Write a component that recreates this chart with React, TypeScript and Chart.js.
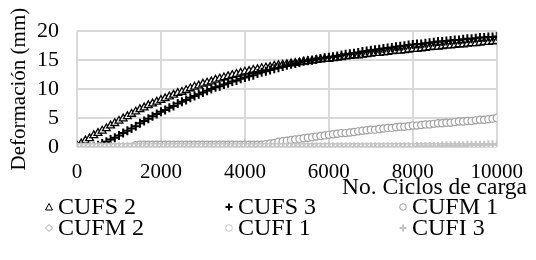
import React, { useEffect, useRef } from "react";
import { Chart, registerables } from "chart.js";

Chart.register(...registerables);

const cycles = [
  0, 100, 200, 300, 400, 500, 600, 700, 800, 900, 1000,
  1100, 1200, 1300, 1400, 1500, 1600, 1700, 1800, 1900, 2000,
  2100, 2200, 2300, 2400, 2500, 2600, 2700, 2800, 2900, 3000,
  3100, 3200, 3300, 3400, 3500, 3600, 3700, 3800, 3900, 4000,
  4100, 4200, 4300, 4400, 4500, 4600, 4700, 4800, 4900, 5000,
  5100, 5200, 5300, 5400, 5500, 5600, 5700, 5800, 5900, 6000,
  6100, 6200, 6300, 6400, 6500, 6600, 6700, 6800, 6900, 7000,
  7100, 7200, 7300, 7400, 7500, 7600, 7700, 7800, 7900, 8000,
  8100, 8200, 8300, 8400, 8500, 8600, 8700, 8800, 8900, 9000,
  9100, 9200, 9300, 9400, 9500, 9600, 9700, 9800, 9900, 10000,
];

const cufs2 = [
  0.2, 0.6, 1.1, 1.5, 2.0, 2.4, 2.8, 3.2, 3.7, 4.1, 4.5,
  4.9, 5.3, 5.7, 6.1, 6.5, 6.8, 7.2, 7.5, 7.8, 8.1,
  8.4, 8.7, 9.0, 9.3, 9.5, 9.8, 10.1, 10.4, 10.6, 10.9,
  11.1, 11.3, 11.6, 11.8, 12.0, 12.2, 12.4, 12.6, 12.8, 13.0,
  13.1, 13.3, 13.4, 13.6, 13.7, 13.8, 14.0, 14.1, 14.2, 14.3,
  14.4, 14.5, 14.6, 14.7, 14.8, 14.9, 15.0, 15.1, 15.2, 15.2,
  15.3, 15.4, 15.5, 15.6, 15.7, 15.8, 15.8, 15.9, 16.0, 16.1,
  16.2, 16.2, 16.3, 16.4, 16.5, 16.6, 16.6, 16.7, 16.8, 16.9,
  16.9, 17.0, 17.1, 17.2, 17.3, 17.3, 17.4, 17.5, 17.5, 17.6,
  17.7, 17.7, 17.8, 17.9, 17.9, 18.0, 18.1, 18.1, 18.2, 18.3,
];

const cufs3 = [
  0, 0, 0, 0, 0.1, 0.3, 0.6, 0.9, 1.3, 1.6, 2.0,
  2.4, 2.8, 3.2, 3.6, 4.1, 4.5, 4.9, 5.3, 5.7, 6.1,
  6.4, 6.8, 7.1, 7.5, 7.8, 8.1, 8.5, 8.8, 9.1, 9.4,
  9.7, 10.0, 10.3, 10.5, 10.8, 11.0, 11.3, 11.5, 11.8, 12.0,
  12.2, 12.4, 12.7, 12.9, 13.1, 13.3, 13.5, 13.7, 13.9, 14.1,
  14.3, 14.4, 14.6, 14.8, 14.9, 15.0, 15.1, 15.3, 15.4, 15.5,
  15.6, 15.7, 15.9, 16.0, 16.1, 16.2, 16.3, 16.5, 16.6, 16.7,
  16.8, 16.9, 17.0, 17.1, 17.2, 17.3, 17.4, 17.5, 17.6, 17.7,
  17.8, 17.8, 17.9, 18.0, 18.1, 18.2, 18.2, 18.3, 18.4, 18.5,
  18.5, 18.6, 18.7, 18.7, 18.8, 18.9, 18.9, 19.0, 19.0, 19.1,
];

const cufm1 = [
  0, 0, 0, 0, 0, 0, 0, 0, 0, 0, 0,
  0, 0, 0, 0.3, 0.4, 0.4, 0.4, 0.4, 0.4, 0.4,
  0.4, 0.4, 0.4, 0.4, 0.4, 0.4, 0.4, 0.4, 0.4, 0.4,
  0.4, 0.4, 0.4, 0.4, 0.4, 0.4, 0.4, 0.4, 0.4, 0.4,
  0.4, 0.4, 0.4, 0.4, 0.5, 0.6, 0.7, 0.9, 1.0, 1.1,
  1.2, 1.3, 1.4, 1.5, 1.6, 1.7, 1.8, 1.9, 2.0, 2.1,
  2.2, 2.3, 2.4, 2.4, 2.5, 2.6, 2.7, 2.8, 2.9, 3.0,
  3.0, 3.1, 3.2, 3.3, 3.3, 3.4, 3.5, 3.5, 3.6, 3.7,
  3.7, 3.8, 3.9, 3.9, 4.0, 4.1, 4.1, 4.2, 4.2, 4.3,
  4.4, 4.4, 4.5, 4.5, 4.6, 4.7, 4.7, 4.8, 4.9, 5.0,
];

const cufm2 = [
  0, 0, 0, 0, 0, 0, 0, 0, 0, 0, 0,
  0, 0, 0, 0, 0, 0, 0, 0, 0, 0,
  0, 0, 0, 0, 0, 0, 0, 0, 0, 0,
  0, 0, 0, 0, 0, 0, 0, 0, 0, 0,
  0, 0, 0, 0, 0, 0, 0, 0, 0, 0,
  0, 0, 0, 0, 0, 0, 0, 0, 0, 0,
  0, 0, 0, 0, 0, 0, 0, 0, 0, 0,
  0, 0, 0, 0, 0, 0, 0, 0, 0, 0,
  0, 0, 0, 0, 0, 0, 0, 0, 0, 0,
  0, 0, 0, 0, 0, 0, 0, 0, 0, 0,
];

const cufi1 = [
  0, 0, 0, 0, 0, 0, 0, 0, 0, 0, 0,
  0, 0, 0, 0, 0, 0, 0, 0, 0, 0,
  0, 0, 0, 0, 0, 0, 0, 0, 0, 0,
  0, 0, 0, 0, 0, 0, 0, 0, 0, 0,
  0, 0, 0, 0, 0, 0, 0, 0, 0, 0,
  0, 0, 0, 0, 0, 0, 0, 0, 0, 0,
  0, 0, 0, 0, 0, 0, 0, 0, 0, 0,
  0, 0, 0, 0, 0, 0, 0, 0, 0, 0,
  0, 0, 0, 0, 0, 0, 0, 0, 0, 0,
  0, 0, 0, 0, 0, 0, 0, 0, 0, 0,
];

const cufi3 = [
  0, 0, 0, 0, 0, 0, 0, 0, 0, 0, 0,
  0, 0, 0, 0, 0, 0, 0, 0, 0, 0,
  0, 0, 0, 0, 0, 0, 0, 0, 0, 0,
  0, 0, 0, 0, 0, 0, 0, 0, 0, 0,
  0, 0, 0, 0, 0, 0, 0, 0, 0, 0,
  0, 0, 0, 0, 0, 0, 0, 0, 0, 0,
  0, 0, 0, 0, 0, 0, 0, 0, 0, 0,
  0, 0, 0, 0, 0, 0, 0, 0, 0, 0,
  0.1, 0.1, 0.1, 0.1, 0.1, 0.1, 0.2, 0.2, 0.2, 0.2,
  0.2, 0.2, 0.3, 0.3, 0.3, 0.3, 0.3, 0.4, 0.4, 0.4,
];

const seriesNames = ["CUFS 2", "CUFS 3", "CUFM 1", "CUFM 2", "CUFI 1", "CUFI 3"];
const xStep = 2000;
const yStep = 5;

const FONT = "'Liberation Serif', 'Times New Roman', serif";
const FS_X = 21;
const FS_Y = 22;
const FS_TITLE = 23.5;
const FS_LEG = 24;

const styles = [
  { pointStyle: "triangle", radius: 4.5, border: "#000000", bg: "#ffffff", bw: 1.3 },
  { pointStyle: "cross", radius: 4.5, border: "#000000", bg: "#000000", bw: 2 },
  { pointStyle: "circle", radius: 3.6, border: "#a0a0a0", bg: "#ffffff", bw: 1.2 },
  { pointStyle: "rectRot", radius: 3.6, border: "#a0a0a0", bg: "#ffffff", bw: 1.2 },
  { pointStyle: "circle", radius: 3.6, border: "#c4c4c4", bg: "#ffffff", bw: 1.2 },
  { pointStyle: "cross", radius: 4.5, border: "#c4c4c4", bg: "#c4c4c4", bw: 2 },
];

function Marker({ idx }: { idx: number }) {
  const s = styles[idx];
  let shape: React.ReactNode = null;
  if (s.pointStyle === "triangle")
    shape = <polygon points="5,1.5 8.5,8 1.5,8" fill="#fff" stroke={s.border} strokeWidth={1} />;
  else if (s.pointStyle === "cross")
    shape = (
      <g stroke={s.border} strokeWidth={2}>
        <line x1="5" y1="1.5" x2="5" y2="8.5" />
        <line x1="1.5" y1="5" x2="8.5" y2="5" />
      </g>
    );
  else if (s.pointStyle === "circle")
    shape = <circle cx="5" cy="5" r="3.3" fill="#fff" stroke={s.border} strokeWidth={1} />;
  else shape = <polygon points="5,1.5 8.5,5 5,8.5 1.5,5" fill="#fff" stroke={s.border} strokeWidth={1} />;
  return (
    <svg width="10" height="10" style={{ position: "absolute", left: -14, top: 9 }}>
      {shape}
    </svg>
  );
}

const legendPos = [
  { left: 58, top: 193 },
  { left: 238, top: 193 },
  { left: 412, top: 193 },
  { left: 58, top: 214 },
  { left: 238, top: 214 },
  { left: 412, top: 214 },
];

export default function App() {
  const ref = useRef<HTMLCanvasElement | null>(null);

  useEffect(() => {
    if (!ref.current) return;
    const all = [cufs2, cufs3, cufm1, cufm2, cufi1, cufi3];
    const datasets = all.map((vals, i) => ({
      label: seriesNames[i],
      data: vals.map((v, j) => ({ x: cycles[j], y: v })),
      showLine: false,
      pointStyle: styles[i].pointStyle as any,
      pointRadius: styles[i].radius,
      pointBorderColor: styles[i].border,
      pointBackgroundColor: styles[i].bg,
      pointBorderWidth: styles[i].bw,
      borderColor: styles[i].border,
      backgroundColor: styles[i].bg,
      order: 6 - i,
    }));
    const chart = new Chart(ref.current, {
      type: "scatter",
      data: { datasets },
      options: {
        animation: false,
        responsive: false,
        maintainAspectRatio: false,
        layout: { padding: { top: 16, right: 31, bottom: 73, left: 0 } },
        plugins: { legend: { display: false }, tooltip: { enabled: false } },
        scales: {
          x: {
            type: "linear",
            min: 0,
            max: 10000,
            afterFit: (s: any) => {
              s.height = 40;
            },
            grid: { color: "#d9d9d9", lineWidth: 2, drawTicks: false },
            border: { display: false },
            ticks: {
              stepSize: xStep,
              autoSkip: false,
              padding: 13,
              color: "#000",
              font: { family: FONT, size: FS_X },
              maxRotation: 0,
              callback: (v: any) => String(v),
            },
          },
          y: {
            min: 0,
            max: 20,
            afterFit: (s: any) => {
              s.width = 77;
            },
            grid: { color: "#d9d9d9", lineWidth: 2, drawTicks: false },
            border: { display: false },
            ticks: {
              stepSize: yStep,
              autoSkip: false,
              padding: 18,
              color: "#000",
              font: { family: FONT, size: FS_Y },
              callback: (v: any) => String(v),
            },
            title: {
              display: true,
              text: "Deformación (mm)",
              color: "#000",
              font: { family: FONT, size: FS_X },
              padding: { top: 7, bottom: 0 },
            },
          },
        },
      },
    });
    return () => chart.destroy();
  }, []);

  return (
    <div style={{ position: "fixed", left: 0, top: 0, width: 536, height: 260, background: "#fff" }}>
      <canvas ref={ref} width={536} height={260} style={{ width: 536, height: 260, display: "block" }} />
      <div
        style={{
          position: "absolute",
          right: 9,
          top: 173,
          fontFamily: FONT,
          fontSize: FS_TITLE,
          lineHeight: "26px",
          color: "#000",
          whiteSpace: "nowrap",
        }}
      >
        No. Ciclos de carga
      </div>
      {seriesNames.map((name, i) => (
        <div
          key={name}
          style={{
            position: "absolute",
            left: legendPos[i].left,
            top: legendPos[i].top,
            fontFamily: FONT,
            fontSize: FS_LEG,
            lineHeight: "26px",
            color: "#000",
            whiteSpace: "nowrap",
          }}
        >
          <Marker idx={i} />
          {name}
        </div>
      ))}
    </div>
  );
}
